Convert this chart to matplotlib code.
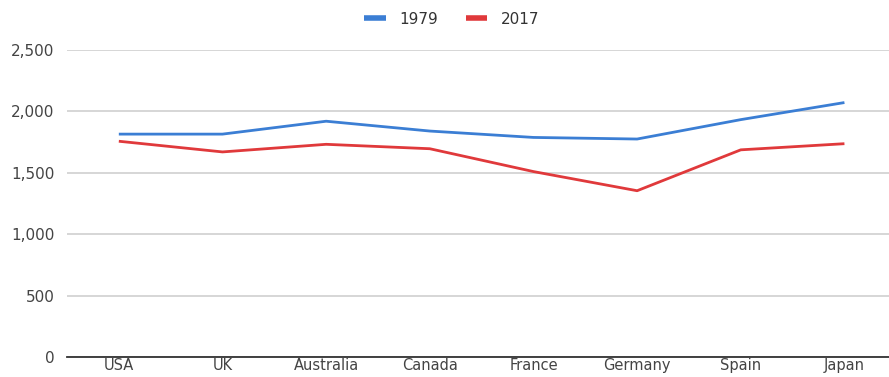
import matplotlib
matplotlib.use("Agg")
import matplotlib.pyplot as plt
from matplotlib.ticker import FuncFormatter

countries = ["USA", "UK", "Australia", "Canada", "France", "Germany", "Spain", "Japan"]
hours_1979 = [1815, 1815, 1920, 1840, 1788, 1775, 1933, 2072]
hours_2017 = [1757, 1670, 1732, 1696, 1510, 1354, 1687, 1737]
yticks = [0, 500, 1000, 1500, 2000, 2500]

W, H = 889, 377
fig = plt.figure(figsize=(W / 100, H / 100), dpi=100)
ax = fig.add_axes([67 / W, 1 - 357 / H, (W - 67) / W, (357 - 50) / H])

x = list(range(len(countries)))
l1, = ax.plot(x, hours_1979, color="#3b7ed4", lw=2.0, solid_capstyle="butt", label="1979")
l2, = ax.plot(x, hours_2017, color="#e0393b", lw=2.0, solid_capstyle="butt", label="2017")

ax.set_xlim(-0.5, 7.43)
ax.set_ylim(0, 2500)
ax.set_yticks(yticks)
ax.yaxis.set_major_formatter(FuncFormatter(lambda v, p: f"{int(v):,}"))
ax.set_xticks(x)
ax.set_xticklabels(countries)

ax.grid(axis="y", color="#d6d6d6", lw=1.4)
ax.set_axisbelow(True)
for s in ["top", "right", "left"]:
    ax.spines[s].set_visible(False)
ax.spines["bottom"].set_color("#333333")
ax.spines["bottom"].set_linewidth(1.3)
ax.tick_params(axis="both", length=0, labelsize=11, colors="#444444")
ax.tick_params(axis="y", pad=9)
ax.tick_params(axis="x", pad=1, labelsize=10.5)

fig.legend(handles=[l1, l2], loc="center", bbox_to_anchor=(452 / W, 1 - 19 / H),
           ncol=2, frameon=False, fontsize=11, handlelength=1.4, handletextpad=0.9,
           columnspacing=1.8, labelcolor="#333333")
for h in fig.legends[0].legend_handles:
    h.set_linewidth(4)

fig.savefig("out.png", dpi=100)
